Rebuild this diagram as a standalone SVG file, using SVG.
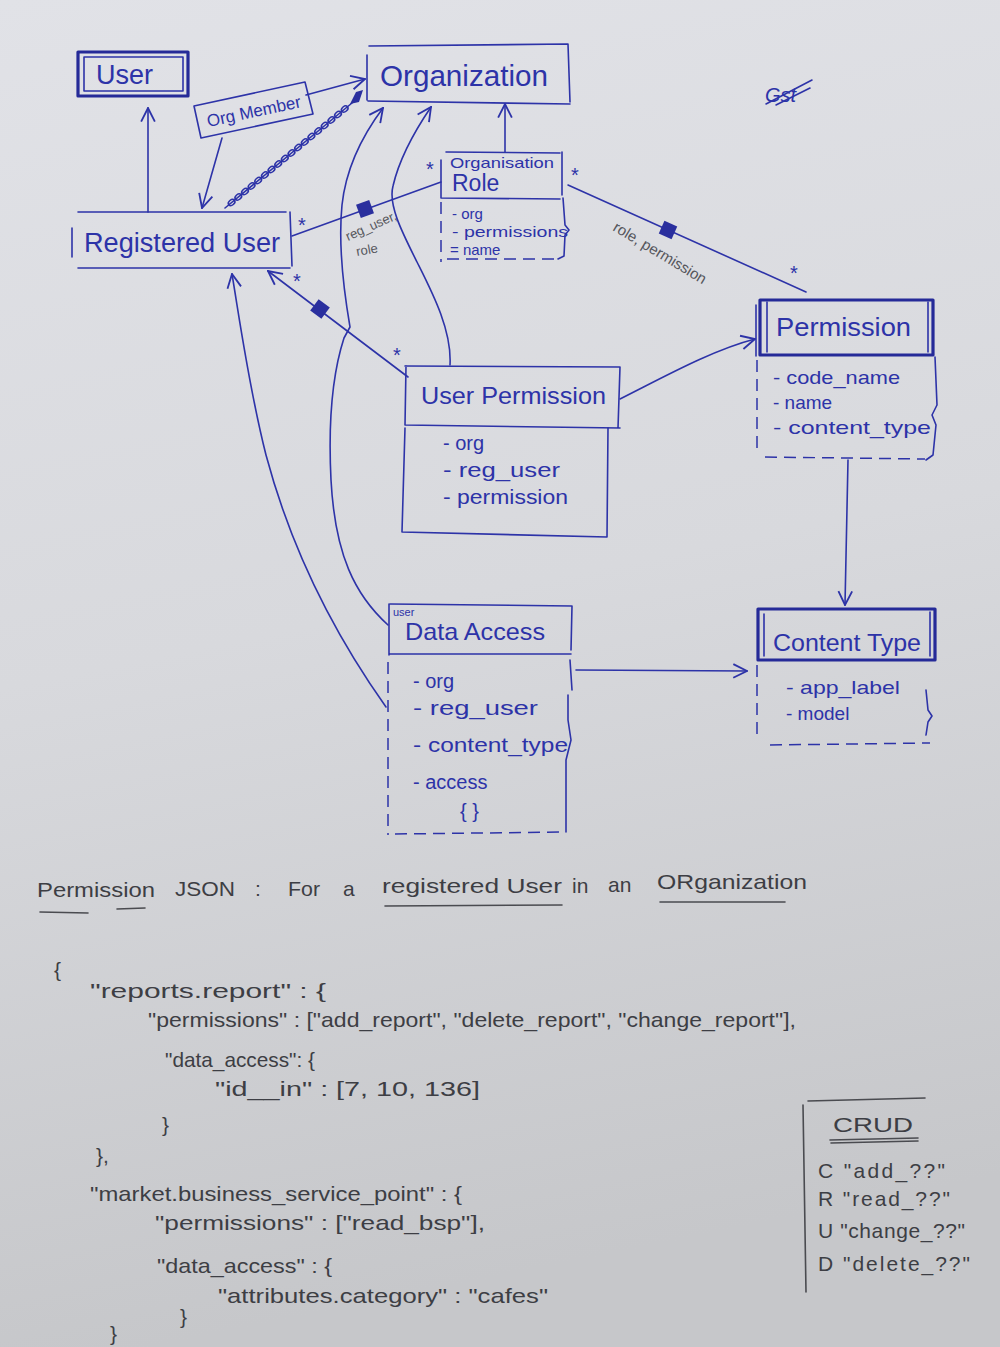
<svg xmlns="http://www.w3.org/2000/svg" width="1000" height="1347" viewBox="0 0 1000 1347">
  <defs>
    <linearGradient id="paper" x1="0" y1="0" x2="0.15" y2="1">
      <stop offset="0" stop-color="#e1e2e7"/>
      <stop offset="0.5" stop-color="#d8d9dd"/>
      <stop offset="1" stop-color="#c6c7ca"/>
    </linearGradient>
    <marker id="open" viewBox="0 0 14 14" refX="13" refY="7" markerWidth="16" markerHeight="16" markerUnits="userSpaceOnUse" orient="auto">
      <path d="M1,1 L13,7 L1,13" fill="none" stroke="#2d33a8" stroke-width="1.6"/>
    </marker>
    <rect id="comp" x="-7" y="-7" width="14" height="14" fill="#2a2f9e"/>
    <ellipse id="loop" rx="3.6" ry="2.6" fill="none" stroke="#2d33a8" stroke-width="1.6" transform="rotate(-40)"/>
    <style>
      .ink { fill: none; stroke: #2d33a8; stroke-width: 1.6; stroke-linecap: round; stroke-linejoin: round; }
      .bold { fill: none; stroke: #252a98; stroke-width: 3.2; stroke-linejoin: round; }
      .dash { fill: none; stroke: #2d33a8; stroke-width: 1.5; stroke-dasharray: 12 7; }
      .t { fill: #2d33a8; font-family: "Liberation Sans", Arial, sans-serif; }
      .star { fill: #2d33a8; font-family: "Liberation Sans", Arial, sans-serif; font-size: 20px; }
      .lbl { fill: #55565c; font-family: "Liberation Sans", Arial, sans-serif; font-size: 14px; }
      .p { fill: #3d3e44; font-family: "Liberation Sans", Arial, sans-serif; font-size: 21px; }
      .pl { fill: none; stroke: #4a4b50; stroke-width: 1.6; stroke-linecap: round; }
    </style>
  </defs>

  <rect width="1000" height="1347" fill="url(#paper)"/>

  <!-- connectors -->
  <g id="connectors">
    <!-- Registered User -> User -->
    <path class="ink" d="M148,212 L148,108" marker-end="url(#open)"/>
    <!-- Org Member -> Registered User -->
    <path class="ink" d="M222,138 L202,208" marker-end="url(#open)"/>
    <!-- Org Member -> Organization -->
    <path class="ink" d="M306,95 L365,79" marker-end="url(#open)"/>
    <!-- coiled membership link Registered User - Organization -->
    <path class="ink" d="M225,208 L352,103"/>
    <use href="#loop" x="231.6" y="202.5"/>
    <use href="#loop" x="238.3" y="197"/>
    <use href="#loop" x="245" y="191.5"/>
    <use href="#loop" x="251.6" y="186"/>
    <use href="#loop" x="258.2" y="180.5"/>
    <use href="#loop" x="264.9" y="175"/>
    <use href="#loop" x="271.5" y="169.5"/>
    <use href="#loop" x="278.2" y="164"/>
    <use href="#loop" x="284.8" y="158.5"/>
    <use href="#loop" x="291.5" y="153"/>
    <use href="#loop" x="298.1" y="147.5"/>
    <use href="#loop" x="304.8" y="142"/>
    <use href="#loop" x="311.4" y="136.5"/>
    <use href="#loop" x="318.1" y="131"/>
    <use href="#loop" x="324.7" y="125.5"/>
    <use href="#loop" x="331.4" y="120"/>
    <use href="#loop" x="338" y="114.5"/>
    <use href="#loop" x="344.7" y="109"/>
    <polygon points="350,104 356,92 363,90 359,102" fill="#2a2f9e"/>

    <!-- Registered User - Organisation Role (composition) -->
    <path class="ink" d="M292,236 L441,182"/>
    <use href="#comp" transform="translate(365,209) rotate(-20)"/>
    <text class="star" x="298" y="232">*</text>
    <text class="star" x="426" y="176">*</text>
    <text class="lbl" style="font-size:13px" transform="translate(348,241) rotate(-24)">reg_user,</text>
    <text class="lbl" style="font-size:13px" transform="translate(357,256) rotate(-10)">role</text>

    <!-- Organisation Role -> Organization -->
    <path class="ink" d="M505,152 L505,104" marker-end="url(#open)"/>

    <!-- Organisation Role - Permission (composition) -->
    <path class="ink" d="M568,185 L806,292"/>
    <use href="#comp" transform="translate(668,230) rotate(24)"/>
    <text class="star" x="571" y="182">*</text>
    <text class="star" x="790" y="280">*</text>
    <text class="lbl" style="font-size:15px" transform="translate(612,230) rotate(31)">role, permission</text>

    <!-- User Permission -> Registered User (composition) -->
    <path class="ink" d="M408,377 L268,271" marker-end="url(#open)"/>
    <use href="#comp" transform="translate(320,309) rotate(37)"/>
    <text class="star" x="293" y="288">*</text>
    <text class="star" x="393" y="362">*</text>

    <!-- User Permission -> Organization -->
    <path class="ink" d="M450,365 C452,330 432,292 417,262 C402,232 388,205 393,186 C399,160 414,132 431,107" marker-end="url(#open)"/>
    <!-- User Data Access -> Organization -->
    <path class="ink" d="M388,625 C355,595 335,555 331,480 C328,420 333,372 344,338 L350,327 C344,292 338,245 342,205 C346,168 362,136 383,108" marker-end="url(#open)"/>
    <!-- User Data Access -> Registered User -->
    <path class="ink" d="M386,707 C330,628 290,545 266,455 C249,388 240,322 232,274" marker-end="url(#open)"/>
    <!-- User Permission -> Permission -->
    <path class="ink" d="M620,399 C662,378 712,350 755,339" marker-end="url(#open)"/>
    <!-- Permission -> Content Type -->
    <path class="ink" d="M848,460 L845,605" marker-end="url(#open)"/>
    <!-- User Data Access -> Content Type -->
    <path class="ink" d="M576,670 L747,671" marker-end="url(#open)"/>
  </g>

  <!-- User -->
  <g id="user">
    <rect class="bold" x="78" y="52" width="110" height="44"/>
    <rect class="ink" x="84" y="57" width="99" height="34"/>
    <text class="t" x="96" y="84" font-size="27">User</text>
  </g>

  <!-- Organization -->
  <g id="organization">
    <path class="ink" d="M367,55 L367,100 M369,46 L568,44 L570,102 M368,101 L570,104"/>
    <text class="t" x="380" y="86" font-size="29" textLength="168" lengthAdjust="spacingAndGlyphs">Organization</text>
  </g>

  <!-- Org Member -->
  <g id="org-member">
    <polygon class="ink" points="194,106 305,82 313,114 201,138"/>
    <text class="t" font-size="17" text-anchor="middle" transform="translate(255,117) rotate(-12)">Org Member</text>
  </g>

  <!-- Registered User -->
  <g id="registered-user">
    <path class="ink" d="M72,228 L72,257 M78,212 L286,212 M290,212 L292,266 M78,268 L290,268"/>
    <text class="t" x="84" y="252" font-size="27" textLength="196" lengthAdjust="spacingAndGlyphs">Registered User</text>
  </g>

  <!-- Organisation Role -->
  <g id="organisation-role">
    <path class="ink" d="M441,160 L441,198 M446,152 L560,153 M562,152 L562,195 M441,198 L560,199"/>
    <text class="t" x="450" y="168" font-size="15" textLength="104" lengthAdjust="spacingAndGlyphs">Organisation</text>
    <text class="t" x="452" y="191" font-size="23">Role</text>
    <path class="dash" d="M441,202 L441,262 M447,259 L555,259"/>
    <path class="ink" d="M563,198 L565,225 L569,230 L565,235 L564,256 L558,259"/>
    <text class="t" x="452" y="219" font-size="15">- org</text>
    <text class="t" x="452" y="237" font-size="15" textLength="116" lengthAdjust="spacingAndGlyphs">- permissions</text>
    <text class="t" x="450" y="255" font-size="15">= name</text>
  </g>

  <!-- Permission -->
  <g id="permission">
    <rect class="bold" x="760" y="300" width="173" height="55"/>
    <path class="ink" d="M756,305 L756,356 M767,302 L767,352 M928,302 L928,352"/>
    <text class="t" x="776" y="336" font-size="26" textLength="135" lengthAdjust="spacingAndGlyphs">Permission</text>
    <path class="dash" d="M757,360 L757,452 M765,457 L925,459"/>
    <path class="ink" d="M935,357 L937,405 L932,415 L936,425 L933,455 L926,460"/>
    <text class="t" x="773" y="384" font-size="19" textLength="127" lengthAdjust="spacingAndGlyphs">- code_name</text>
    <text class="t" x="773" y="409" font-size="19">- name</text>
    <text class="t" x="773" y="434" font-size="19" textLength="158" lengthAdjust="spacingAndGlyphs">- content_type</text>
  </g>

  <!-- Content Type -->
  <g id="content-type">
    <rect class="bold" x="758" y="609" width="177" height="51"/>
    <path class="ink" d="M764,614 L764,656 M930,612 L930,656"/>
    <text class="t" x="773" y="651" font-size="24" textLength="148" lengthAdjust="spacingAndGlyphs">Content Type</text>
    <path class="dash" d="M757,665 L757,735 M770,745 L930,743"/>
    <path class="ink" d="M926,690 L928,710 L932,716 L928,722 L926,735"/>
    <text class="t" x="786" y="694" font-size="19" textLength="114" lengthAdjust="spacingAndGlyphs">- app_label</text>
    <text class="t" x="786" y="720" font-size="19">- model</text>
  </g>

  <!-- User Permission -->
  <g id="user-permission">
    <path class="ink" d="M405,366 L620,367 L618,428 M406,366 L405,425 M405,425 L620,428"/>
    <path class="ink" d="M405,428 L402,532 L607,537 L608,428"/>
    <text class="t" x="421" y="404" font-size="24" textLength="185" lengthAdjust="spacingAndGlyphs">User Permission</text>
    <text class="t" x="443" y="450" font-size="20">- org</text>
    <text class="t" x="443" y="477" font-size="20" textLength="117" lengthAdjust="spacingAndGlyphs">- reg_user</text>
    <text class="t" x="443" y="504" font-size="20" textLength="125" lengthAdjust="spacingAndGlyphs">- permission</text>
  </g>

  <!-- User Data Access -->
  <g id="user-data-access">
    <path class="ink" d="M390,604 L572,606 L571,650 M389,604 L389,655 M390,654 L571,654"/>
    <text class="t" x="393" y="616" font-size="11">user</text>
    <text class="t" x="405" y="640" font-size="24" textLength="140" lengthAdjust="spacingAndGlyphs">Data Access</text>
    <path class="dash" d="M388,662 L388,835 M395,834 L565,832"/>
    <path class="ink" d="M570,660 L572,690 M568,695 L568,720 L571,740 L566,760 L566,832"/>
    <text class="t" x="413" y="688" font-size="20">- org</text>
    <text class="t" x="413" y="715" font-size="20" textLength="125" lengthAdjust="spacingAndGlyphs">- reg_user</text>
    <text class="t" x="413" y="752" font-size="20" textLength="155" lengthAdjust="spacingAndGlyphs">- content_type</text>
    <text class="t" x="413" y="789" font-size="20">- access</text>
    <text class="t" x="460" y="818" font-size="20">{ }</text>
  </g>

  <!-- crossed-out initials -->
  <g id="initials">
    <text class="t" x="765" y="102" font-size="20" font-style="italic">Gst</text>
    <path class="ink" d="M766,104 L812,80 M776,105 L810,88"/>
  </g>

  <!-- Permission JSON notes -->
  <g id="json-notes">
    <text class="p" x="37" y="897" textLength="118" lengthAdjust="spacingAndGlyphs">Permission</text>
    <text class="p" x="175" y="896" textLength="60" lengthAdjust="spacingAndGlyphs">JSON</text>
    <text class="p" x="255" y="896">:</text>
    <text class="p" x="288" y="896" textLength="32" lengthAdjust="spacingAndGlyphs">For</text>
    <text class="p" x="343" y="896">a</text>
    <text class="p" x="382" y="893" textLength="180" lengthAdjust="spacingAndGlyphs">registered User</text>
    <text class="p" x="572" y="893">in</text>
    <text class="p" x="608" y="892">an</text>
    <text class="p" x="657" y="889" textLength="150" lengthAdjust="spacingAndGlyphs">ORganization</text>
    <path class="pl" d="M40,912 L88,913 M117,909 L145,908 M385,906 L562,905 M660,902 L785,902"/>

    <text class="p" x="54" y="977">{</text>
    <text class="p" x="90" y="998" textLength="236" lengthAdjust="spacingAndGlyphs">"reports.report" : {</text>
    <text class="p" x="148" y="1027" textLength="648" lengthAdjust="spacingAndGlyphs">"permissions" : ["add_report", "delete_report", "change_report"],</text>
    <text class="p" x="165" y="1067" font-size="20" textLength="150" lengthAdjust="spacingAndGlyphs">"data_access": {</text>
    <text class="p" x="215" y="1096" textLength="265" lengthAdjust="spacingAndGlyphs">"id__in" : [7, 10, 136]</text>
    <text class="p" x="162" y="1132">}</text>
    <text class="p" x="96" y="1163">},</text>
    <text class="p" x="90" y="1201" textLength="372" lengthAdjust="spacingAndGlyphs">"market.business_service_point" : {</text>
    <text class="p" x="155" y="1230" textLength="330" lengthAdjust="spacingAndGlyphs">"permissions" : ["read_bsp"],</text>
    <text class="p" x="157" y="1273" textLength="175" lengthAdjust="spacingAndGlyphs">"data_access" : {</text>
    <text class="p" x="218" y="1303" textLength="330" lengthAdjust="spacingAndGlyphs">"attributes.category" : "cafes"</text>
    <text class="p" x="180" y="1324">}</text>
    <text class="p" x="110" y="1341">}</text>
  </g>

  <!-- CRUD legend -->
  <g id="crud">
    <path class="pl" d="M808,1101 L925,1098 M803,1105 L806,1292"/>
    <text class="p" x="833" y="1132" font-size="24" textLength="80" lengthAdjust="spacingAndGlyphs">CRUD</text>
    <path class="pl" d="M830,1140 L918,1138 M831,1143 L918,1141"/>
    <text class="p" x="818" y="1178" textLength="127" lengthAdjust="spacing">C  "add_??"</text>
    <text class="p" x="818" y="1206" textLength="132" lengthAdjust="spacing">R  "read_??"</text>
    <text class="p" x="818" y="1238" textLength="147" lengthAdjust="spacing">U  "change_??"</text>
    <text class="p" x="818" y="1271" textLength="152" lengthAdjust="spacing">D  "delete_??"</text>
  </g>
</svg>
